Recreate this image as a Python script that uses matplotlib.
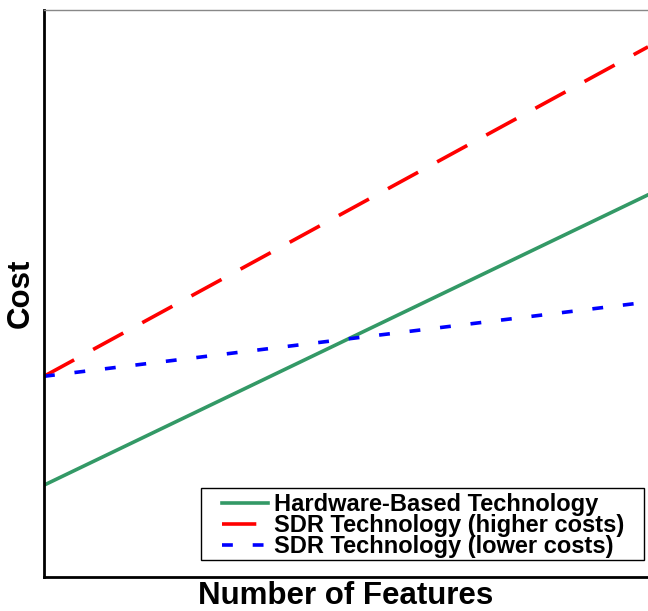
import matplotlib
matplotlib.use("Agg")
import matplotlib.pyplot as plt
from matplotlib.patches import Rectangle

plt.rcParams['font.family'] = ['Liberation Sans', 'DejaVu Sans']

x = [0.0, 1.0]
hardware = [1.62, 6.74]
sdr_high = [3.54, 9.35]
sdr_low = [3.54, 4.85]
labels = ["Hardware-Based Technology", "SDR Technology (higher costs)", "SDR Technology (lower costs)"]

W, H = 648, 611
fig = plt.figure(figsize=(W/100, H/100), dpi=100)
ax = fig.add_axes([44/W, 34/H, 604/W, 567/H])

ax.plot(x, hardware, color='#339966', lw=2.6, label=labels[0])
ax.plot(x, sdr_high, color='#ff0000', lw=2.6, dashes=(9.5, 6), label=labels[1])
ax.plot(x, sdr_low, color='#0000ff', lw=2.6, dashes=(3, 5.5), label=labels[2])

ax.set_xlim(0, 1)
ax.set_ylim(0, 10)
ax.set_xticks([])
ax.set_yticks([])
ax.spines['right'].set_visible(False)
ax.spines['left'].set_linewidth(2)
ax.spines['bottom'].set_linewidth(2)
ax.spines['top'].set_linewidth(1)
ax.spines['top'].set_color('#888888')

ax.set_xlabel("Number of Features", fontsize=22.5, fontweight='bold', labelpad=3)
ax.set_ylabel("Cost", fontsize=22.5, fontweight='bold', labelpad=6)

# legend box (pixels, from top)
bx0, bx1 = 201, 644
by_top, by_bot = 488, 560
rect = Rectangle((bx0/W, 1 - by_bot/H), (bx1-bx0)/W, (by_bot-by_top)/H,
                 transform=fig.transFigure, facecolor='white',
                 edgecolor='black', lw=1, zorder=5, clip_on=False)
ax.add_patch(rect)

leg = ax.legend(loc='upper left', bbox_to_anchor=(222/W, 1 - 493/H),
                bbox_transform=fig.transFigure,
                prop={'weight': 'bold', 'size': 17}, frameon=False,
                handlelength=1.95, handletextpad=0.25,
                labelspacing=-0.08, borderpad=0, borderaxespad=0)
leg.set_zorder(6)

fig.savefig("out.png", dpi=100)
